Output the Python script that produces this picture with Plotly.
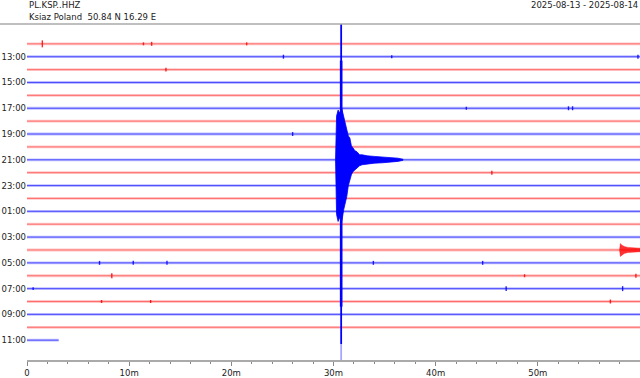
import plotly.graph_objects as go

# ---- data ----
station = "PL.KSP..HHZ"
location = "Ksiaz Poland  50.84 N 16.29 E"
date_span = "2025-08-13 - 2025-08-14"

hours = ["12:00", "13:00", "14:00", "15:00", "16:00", "17:00", "18:00", "19:00",
         "20:00", "21:00", "22:00", "23:00", "00:00", "01:00", "02:00", "03:00",
         "04:00", "05:00", "06:00", "07:00", "08:00", "09:00", "10:00", "11:00"]
row_end_min = [60, 60, 60, 60, 60, 60, 60, 60, 60, 60, 60, 60,
               60, 60, 60, 60, 60, 60, 60, 60, 60, 60, 60, 3.1]

# small transients: row index, minute, amplitude (counts, 1 row = 13)
spike_row = [0, 0, 0, 0, 1, 1, 2, 7, 1, 5, 5, 5, 10, 17, 17, 17, 18, 19, 20, 20,
             17, 17, 18, 18, 19, 19, 20]
spike_min = [1.5, 11.4, 12.2, 21.5, 25.1, 35.7, 13.6, 26.0, 59.8, 43.0, 53.0, 53.4,
             45.5, 7.1, 10.4, 13.7, 8.3, 0.6, 7.3, 12.1, 33.9, 44.6, 48.7,
             59.6, 46.9, 58.3, 57.1]
spike_amp = [3.5, 1.5, 2.0, 1.5, 2.0, 1.5, 1.8, 2.0, 2.0, 1.5, 2.0, 2.0,
             2.0, 2.0, 2.0, 2.0, 2.5, 1.5, 1.5, 1.5, 2.0, 2.0, 1.5,
             2.0, 2.5, 2.5, 2.0]

# main earthquake on the 21:00 line: envelope (counts)
quake_row = 9
quake_min = [30.2, 30.3, 30.45, 30.6, 30.8, 31.0, 31.15, 31.3, 31.45, 31.6, 31.75,
             31.9, 32.1, 32.3, 32.55, 32.8, 33.3, 34.0, 34.8, 35.6, 36.3, 36.8]
quake_up = [0, 44, 50, 47, 52, 44, 36, 31, 24, 22, 14, 12, 9, 8, 5, 5, 4, 3.4, 3, 2.4, 1.6, 0.5]
quake_dn = [0, 55, 62, 58, 63, 50, 44, 37, 26, 22, 15, 12, 10, 8, 6, 5, 4, 3.4, 3, 2.4, 1.6, 0.5]
quake_peak_min = 30.75

# small regional event at the end of the 04:00 line
event_row = 16
event_min = [58.0, 58.08, 58.2, 58.45, 58.8, 59.3, 60.0]
event_amp = [0, 6.5, 5, 3.5, 2.6, 2.0, 1.8]

# ---- styling ----
SCALE = 1 / 12.96
RED, BLUE = "255,0,0", "0,0,255"
FONT = "DejaVu Sans"

fig = go.Figure()

# background traces (noise band + core)
for i, h in enumerate(hours):
    c = RED if i % 2 == 0 else BLUE
    band_a, core_a = (0.22, 0.45) if c == RED else (0.25, 0.6)
    fig.add_trace(go.Scatter(x=[0, row_end_min[i]], y=[i, i], mode="lines",
                             line=dict(color=f"rgba({c},{band_a})", width=2.8),
                             hoverinfo="skip", showlegend=False))
    fig.add_trace(go.Scatter(x=[0, row_end_min[i]], y=[i, i], mode="lines",
                             line=dict(color=f"rgba({c},{core_a})", width=1.0),
                             hoverinfo="skip", showlegend=False))

# spikes
for col in (RED, BLUE):
    xs, ys = [], []
    for r, m, a in zip(spike_row, spike_min, spike_amp):
        if (r % 2 == 0) != (col == RED):
            continue
        xs += [m, m, None]
        ys += [r - a * SCALE, r + a * SCALE, None]
    fig.add_trace(go.Scatter(x=xs, y=ys, mode="lines",
                             line=dict(color=f"rgba({col},0.85)", width=1.4),
                             hoverinfo="skip", showlegend=False))

# regional event fill
ex = event_min + event_min[::-1]
ey = [event_row - a * SCALE for a in event_amp] + [event_row + a * SCALE for a in event_amp[::-1]]
fig.add_trace(go.Scatter(x=ex, y=ey, mode="lines", fill="toself",
                         fillcolor=f"rgba({RED},0.8)", line=dict(color=f"rgba({RED},0.8)", width=0.5),
                         hoverinfo="skip", showlegend=False))

# earthquake envelope
qx = quake_min + quake_min[::-1]
qy = [quake_row - a * SCALE for a in quake_up] + [quake_row + a * SCALE for a in quake_dn[::-1]]
fig.add_trace(go.Scatter(x=qx, y=qy, mode="lines", fill="toself",
                         fillcolor=f"rgb({BLUE})", line=dict(color=f"rgb({BLUE})", width=0.8),
                         hoverinfo="skip", showlegend=False))

# clipped peak: full-height stroke
fig.add_trace(go.Scatter(x=[quake_peak_min, quake_peak_min], y=[-1.6, 23.3], mode="lines",
                         line=dict(color=f"rgb({BLUE})", width=1.8), hoverinfo="skip", showlegend=False))
fig.add_trace(go.Scatter(x=[quake_peak_min, quake_peak_min], y=[1.3, 20.4], mode="lines",
                         line=dict(color=f"rgb({BLUE})", width=2.6), hoverinfo="skip", showlegend=False))
fig.add_trace(go.Scatter(x=[quake_peak_min, quake_peak_min], y=[23.3, 24.6], mode="lines",
                         line=dict(color=f"rgba({BLUE},0.35)", width=1.8), hoverinfo="skip", showlegend=False))

fig.update_layout(
    width=640, height=378,
    margin=dict(l=27, r=0, t=24, b=16),
    paper_bgcolor="white", plot_bgcolor="white",
    font=dict(family=FONT, size=8.5, color="#222"),
    xaxis=dict(range=[0, 60], showgrid=False, zeroline=False,
               showline=True, linecolor="#aaaaaa", linewidth=1.5,
               tickvals=[0, 10, 20, 30, 40, 50],
               ticktext=["0", "10m", "20m", "30m", "40m", "50m"],
               ticks="outside", ticklen=4, tickcolor="#888", tickwidth=1,
               minor=dict(dtick=2, ticks="outside", ticklen=2, tickcolor="#888"),
               tickfont=dict(family=FONT, size=8.5, color="#222")),
    yaxis=dict(range=[24.54, -1.54], showgrid=False, zeroline=False, showline=False,
               tickvals=list(range(1, 24, 2)),
               ticktext=[hours[i] for i in range(1, 24, 2)],
               ticks="", ticklen=0,
               tickfont=dict(family=FONT, size=8.5, color="#222")),
    shapes=[dict(type="line", xref="paper", yref="paper", x0=-27 / 613, x1=1, y0=1, y1=1,
                 line=dict(color="#aaaaaa", width=1.5))],
    annotations=[
        dict(text=station, xref="paper", yref="paper", x=0, y=1 + 19 / 338,
             xanchor="left", yanchor="middle", showarrow=False,
             font=dict(family=FONT, size=8.5, color="#222")),
        dict(text=location, xref="paper", yref="paper", x=0, y=1 + 7 / 338,
             xanchor="left", yanchor="middle", showarrow=False,
             font=dict(family=FONT, size=8.5, color="#222")),
        dict(text=date_span, xref="paper", yref="paper", x=1, y=1 + 19 / 338,
             xanchor="right", yanchor="middle", showarrow=False,
             font=dict(family=FONT, size=8.5, color="#222")),
    ],
)

fig.write_html("out.html")
